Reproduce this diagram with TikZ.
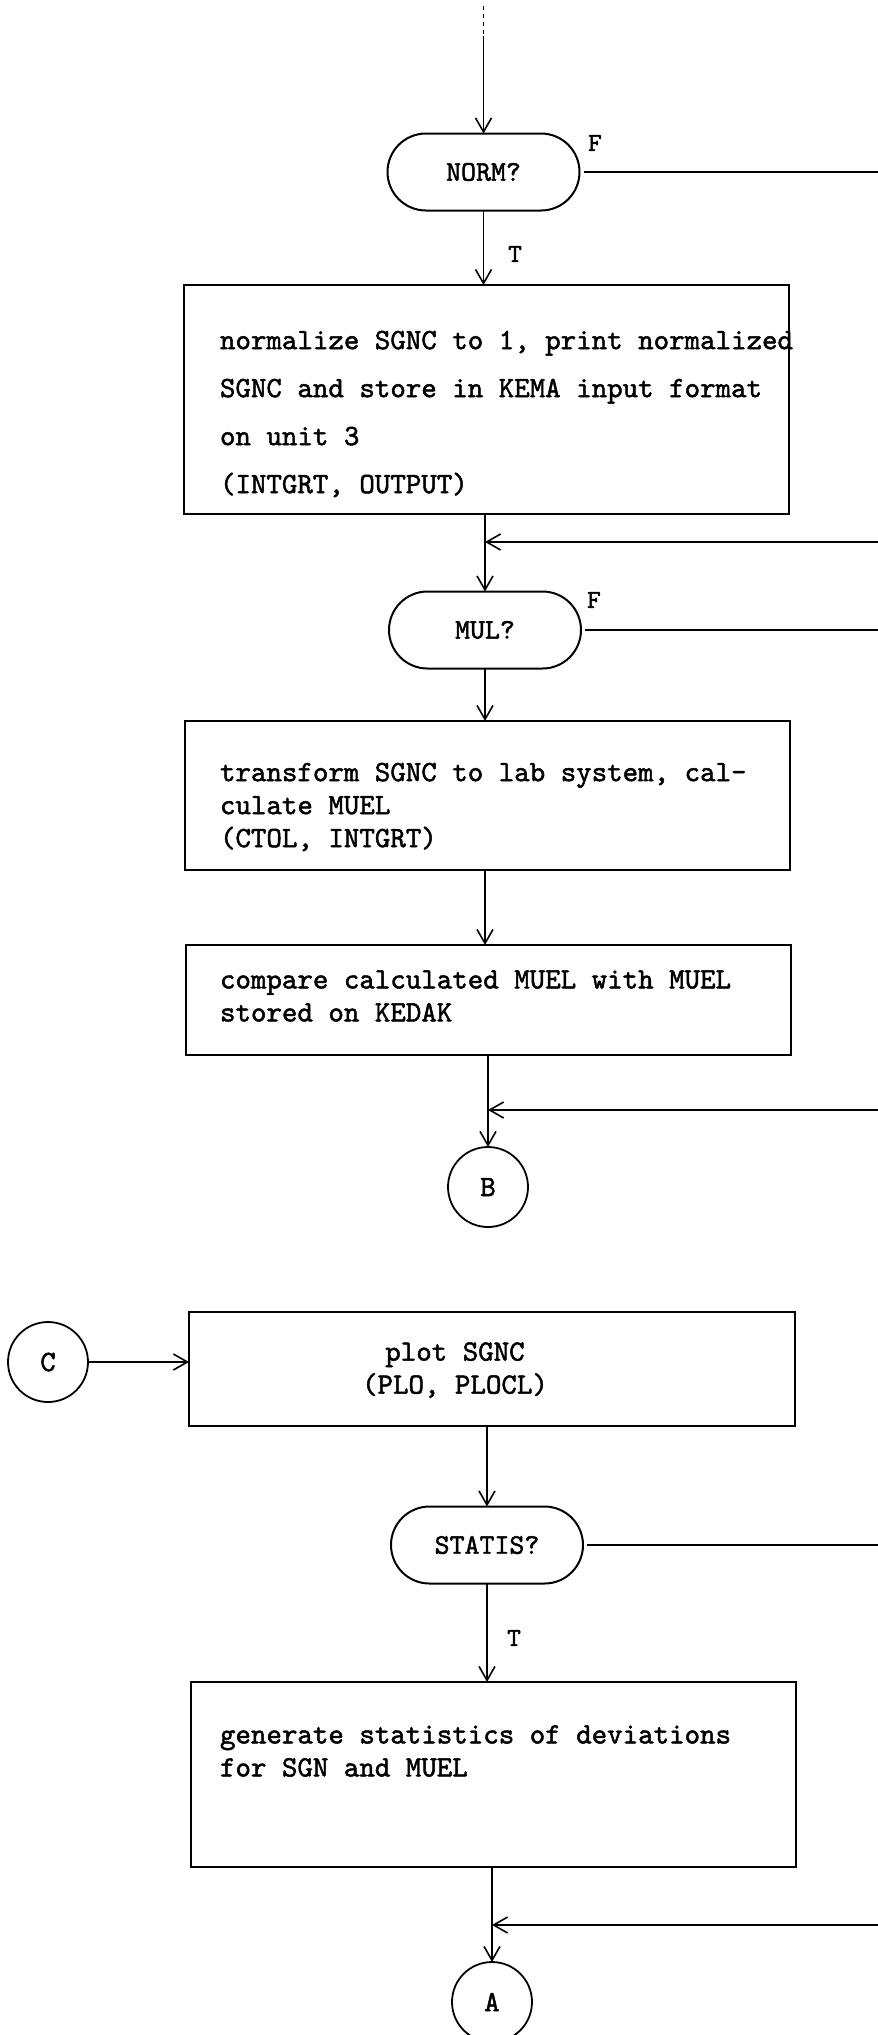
\documentclass[tikz,border=0pt]{standalone}
\usetikzlibrary{arrows.meta,shapes.misc}
% typewriter faces for the chart (slightly emboldened mono)
\font\twA="[lmmono10-regular.otf]:embolden=1.6" at 29.5pt
\font\decA="[lmmono10-regular.otf]:embolden=1.6" at 28.5pt
\font\flagA="[lmmono10-regular.otf]:embolden=1.8" at 26pt
\newcommand\tw{\twA\baselineskip=33pt\relax}
\newcommand\twwide{\twA\baselineskip=48pt\relax}
\newcommand\decfont{\decA}
\newcommand\flagfont{\flagA}
\begin{document}
\begin{tikzpicture}[x=1pt,y=-1pt,
  every node/.style={inner sep=0pt,outer sep=0pt},
  conn/.style={line width=1.6pt},
  arr/.style={conn,-{Straight Barb[length=14pt,width=16pt]}},
  procbox/.style={draw,line width=2pt,rectangle,anchor=north west},
  decide/.style={draw,line width=2pt,rounded rectangle,minimum width=192pt,minimum height=77pt,font=\decfont},
  connector/.style={draw,line width=1.8pt,circle,minimum size=80pt,font=\tw},
  boxtext/.style={anchor=west,align=left,font=\tw},
  flag/.style={font=\flagfont}
]
\path[fill=white,use as bounding box] (0,0) rectangle (878,2035);

% decisions
\node[decide] (norm) at (483.5,172) {NORM?};
\node[decide] (mul) at (485,630) {MUL?};
\node[decide] (statis) at (487,1545) {STATIS?};

% process boxes
\node[procbox,minimum width=605pt,minimum height=229pt] (box1) at (184,285) {};
\node[procbox,minimum width=605pt,minimum height=149pt] (box2) at (185,721) {};
\node[procbox,minimum width=605pt,minimum height=110pt] (box3) at (186,945) {};
\node[procbox,minimum width=606pt,minimum height=114pt] (box4) at (189,1312) {};
\node[procbox,minimum width=605pt,minimum height=185pt] (box5) at (191,1682) {};

% box texts
\node[boxtext,font=\twwide] (t1) at (220,414) {normalize SGNC to 1, print normalized\\SGNC and store in KEMA input format\\on unit 3\\(INTGRT, OUTPUT)};
\node[boxtext] (t2) at (220,807) {transform SGNC to lab system, cal-\\culate MUEL\\(CTOL, INTGRT)};
\node[boxtext] (t3) at (220,996) {compare calculated MUEL with MUEL\\stored on KEDAK};
\node[font=\tw,align=center] (t4) at (455,1370) {plot SGNC\\(PLO, PLOCL)};
\node[boxtext] (t5) at (220,1751) {generate statistics of deviations\\for SGN and MUEL};

% off-page connectors
\node[connector] (B) at (488,1187) {B};
\node[connector] (C) at (48,1362) {C};
\node[connector] (A) at (492,2002) {A};

% branch labels
\node[flag] (f1) at (595,143) {F};
\node[flag] (f2) at (594,600) {F};
\node[flag] (t1lab) at (515,254) {T};
\node[flag] (t2lab) at (514,1638) {T};

% free ends at the right margin
\coordinate (top) at (483.5,6);
\coordinate (topsolid) at (483.5,36);
\coordinate (normF) at (878,172);
\coordinate (mulF) at (878,630);
\coordinate (statF) at (878,1545);
\coordinate (in1) at (878,542);
\coordinate (in2) at (878,1110);
\coordinate (in3) at (878,1925);

% flow lines
\draw[conn,dash pattern=on 4pt off 4pt] (top) -- (topsolid);
\draw[arr] (topsolid) -- (norm.north);
\draw[conn,shorten <=4pt] (norm.east) -- (normF);
\draw[arr] (norm.south) -- (norm.south |- box1.north);
\draw[arr] (mul.north |- box1.south) -- (mul.north);
\draw[arr] (in1) -- (mul.north |- in1);
\draw[conn,shorten <=4pt] (mul.east) -- (mulF);
\draw[arr] (mul.south) -- (mul.south |- box2.north);
\draw[arr] (box2.south -| mul.south) -- (mul.south |- box3.north);
\draw[arr] (B.north |- box3.south) -- (B.north);
\draw[arr] (in2) -- (B.north |- in2);
\draw[arr] (C.east) -- (C.east -| box4.west);
\draw[arr] (statis.north |- box4.south) -- (statis.north);
\draw[conn,shorten <=4pt] (statis.east) -- (statF);
\draw[arr] (statis.south) -- (statis.south |- box5.north);
\draw[arr] (A.north |- box5.south) -- (A.north);
\draw[arr] (in3) -- (A.north |- in3);
\end{tikzpicture}
\end{document}
